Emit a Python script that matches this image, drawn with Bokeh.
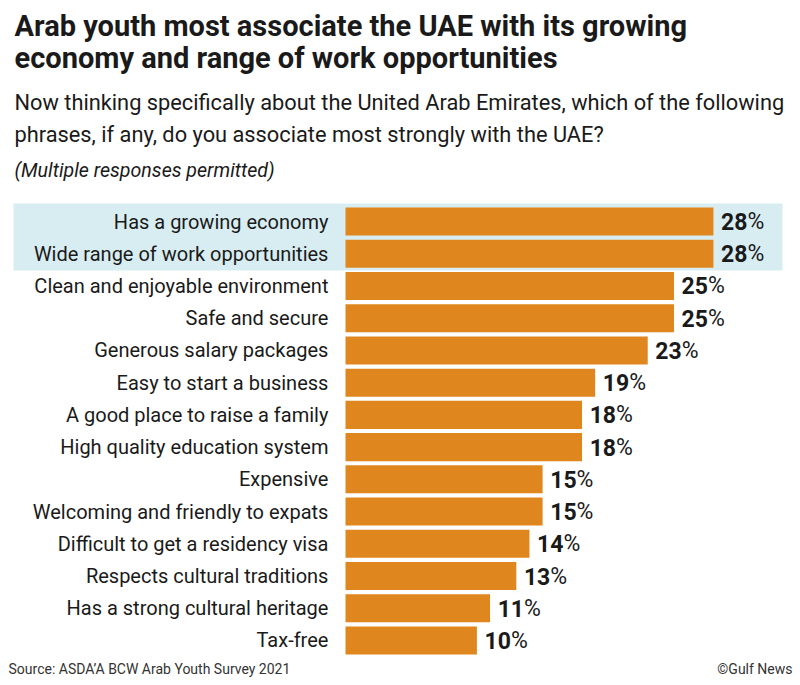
import numpy as np
from bokeh.plotting import figure
from bokeh.models import Range1d, Label, BoxAnnotation, ColumnDataSource
from bokeh.core.properties import value
from bokeh.embed import file_html
from bokeh.resources import INLINE

title_lines = ["Arab youth most associate the UAE with its growing",
               "economy and range of work opportunities"]
subtitle_lines = ["Now thinking specifically about the United Arab Emirates, which of the following",
                  "phrases, if any, do you associate most strongly with the UAE?"]
note = "(Multiple responses permitted)"
source_text = "Source: ASDA\u2019A BCW Arab Youth Survey 2021"
credit_text = "\u00a9Gulf News"

categories = [
    "Has a growing economy",
    "Wide range of work opportunities",
    "Clean and enjoyable environment",
    "Safe and secure",
    "Generous salary packages",
    "Easy to start a business",
    "A good place to raise a family",
    "High quality education system",
    "Expensive",
    "Welcoming and friendly to expats",
    "Difficult to get a residency visa",
    "Respects cultural traditions",
    "Has a strong cultural heritage",
    "Tax-free",
]
values = [28, 28, 25, 25, 23, 19, 18, 18, 15, 15, 14, 13, 11, 10]
highlighted = [0, 1]

W, H = 800, 685
FONT = "Roboto"
BAR = "#e0861e"
BAND = "#d8edf2"
TXT = "#1a1a1a"

# scales: value -> pixels, row index -> pixels
px_per_val = 13.14
x0_px = 345.0
row0_px = 221.0
px_per_row = 32.23

x_range = Range1d(-x0_px / px_per_val, (W - x0_px) / px_per_val)
y_range = Range1d((H - row0_px) / px_per_row, -row0_px / px_per_row)

p = figure(width=W, height=H, x_range=x_range, y_range=y_range,
           output_backend="svg", toolbar_location=None,
           x_axis_location=None, y_axis_location=None,
           min_border=0, min_border_left=0, min_border_right=0,
           min_border_top=0, min_border_bottom=0)
p.outline_line_color = None
p.xgrid.visible = False
p.ygrid.visible = False
p.background_fill_color = "white"
p.border_fill_color = "white"

idx = list(range(len(categories)))
src = ColumnDataSource(dict(
    y=idx, v=values, cat=categories,
    num=[str(v) for v in values], pct=["%"] * len(values),
))

# highlight band
hl_top = min(highlighted) - 0.56
hl_bot = max(highlighted) + 0.52
p.add_layout(BoxAnnotation(left=13, right=782, left_units="screen", right_units="screen",
                           top=hl_top, bottom=hl_bot,
                           fill_color=BAND, fill_alpha=1.0, line_color=None, level="underlay"))

p.hbar(y="y", left=0, right="v", height=0.87, source=src,
       fill_color=BAR, line_color=None)

p.text(x=-1.3, y="y", text="cat", source=src, text_align="right",
       text_baseline="middle", text_font=value(FONT), text_font_size="20px",
       text_color=TXT)

p.text(x="v", y="y", text="num", source=src, x_offset=34, text_align="right",
       text_baseline="middle", text_font=value(FONT), text_font_size="23px",
       text_font_style="bold", text_color=TXT)
p.text(x="v", y="y", text="pct", source=src, x_offset=34, text_align="left",
       text_baseline="middle", text_font=value(FONT), text_font_size="23px",
       text_color=TXT)

def add_label(txt, x, fy, size, style="normal", align="left", color=TXT):
    p.add_layout(Label(x=x, y=H - fy, x_units="screen", y_units="screen", text=txt,
                       text_font=FONT, text_font_size=size, text_font_style=style,
                       text_align=align, text_baseline="middle", text_color=color))

add_label(title_lines[0], 14, 25, "29px", "bold")
add_label(title_lines[1], 14, 57, "29px", "bold")
add_label(subtitle_lines[0], 14, 102, "21.8px")
add_label(subtitle_lines[1], 14, 134, "21.8px")
add_label(note, 14, 170, "19.6px", "italic")
add_label(source_text, 8, 668, "14px", color="#333333")
add_label(credit_text, 792, 668, "14px", align="right", color="#333333")

open("out.html", "w").write(file_html(p, INLINE))
